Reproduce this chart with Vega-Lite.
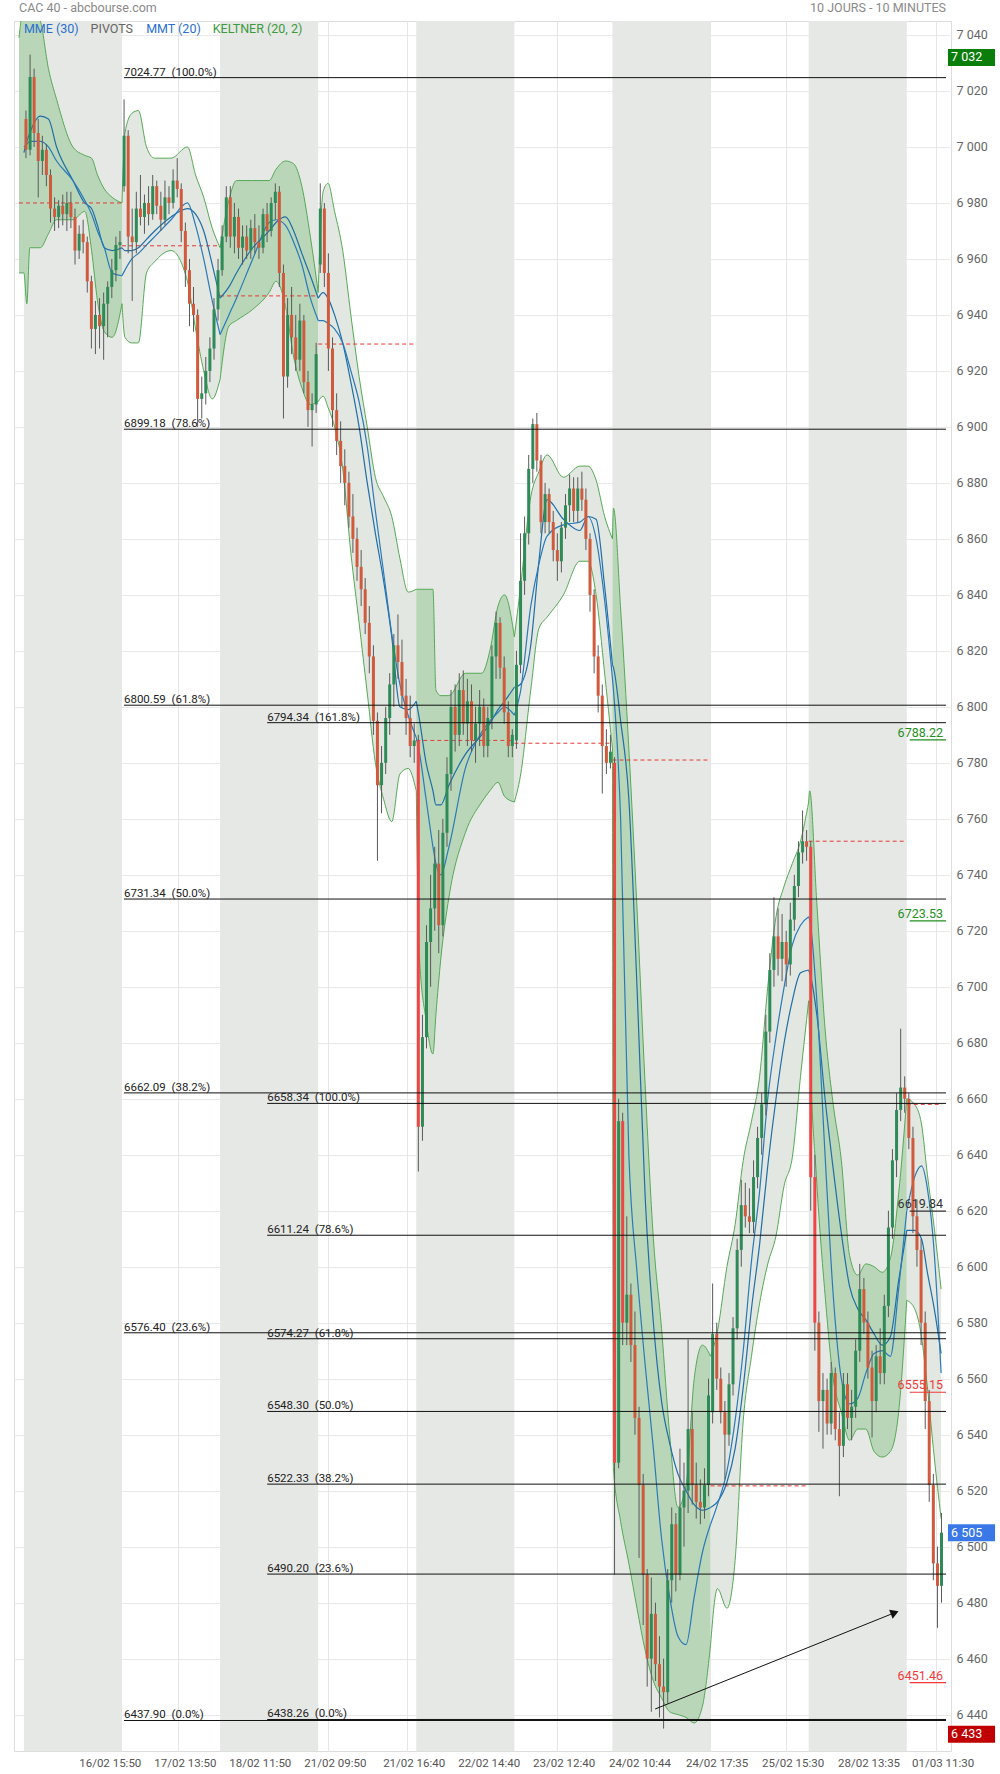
{
"$schema":"https://vega.github.io/schema/vega-lite/v6.json",
"width":937,"height":1730,
"autosize":{"type":"none"},
"padding":{"left":14,"top":21,"right":49,"bottom":23},
"background":"white",
"config":{"view":{"stroke":"#dddddd"},"font":"Roboto"},
"resolve":{"scale":{"color":"independent"}},
"datasets":{
"days":[{"s":0,"e":1},{"s":2,"e":3},{"s":4,"e":5},{"s":6,"e":7},{"s":8,"e":9}],
"band":[
{"x":-0.05,"u":7039,"l":6955,"a":null,"b":null,"d":0},
{"x":0,"u":7050,"l":6955,"a":6998,"b":7000,"d":0},
{"x":0.03,"u":7050,"l":6944,"a":7002,"b":7001,"d":0},
{"x":0.06,"u":7050,"l":6964,"a":7005,"b":7002,"d":0},
{"x":0.167,"u":7045,"l":6964,"a":7011,"b":7002,"d":0},
{"x":0.25,"u":7028,"l":6969,"a":7010,"b":7000,"d":0},
{"x":0.333,"u":7017,"l":6974,"a":7000,"b":6995,"d":0},
{"x":0.5,"u":7000,"l":6974,"a":6988,"b":6988,"d":0},
{"x":0.62,"u":6997,"l":6977,"a":6980,"b":6981,"d":0},
{"x":0.69,"u":6996,"l":6963,"a":6978,"b":6976,"d":0},
{"x":0.75,"u":6990,"l":6945,"a":6972,"b":6970,"d":0},
{"x":0.82,"u":6985,"l":6934,"a":6964,"b":6964,"d":0},
{"x":0.9,"u":6982,"l":6932,"a":6963,"b":6955,"d":0},
{"x":1,"u":6980,"l":6944,"a":6964,"b":6954,"d":0},
{"x":1,"u":6980,"l":6944,"a":6964,"b":6954,"d":1},
{"x":1.03,"u":7005,"l":6932,"a":6963,"b":6956,"d":1},
{"x":1.1,"u":7012,"l":6930,"a":6963,"b":6960,"d":1},
{"x":1.167,"u":7013,"l":6930,"a":6964,"b":6962,"d":1},
{"x":1.25,"u":7000,"l":6955,"a":6967,"b":6965,"d":1},
{"x":1.333,"u":6996,"l":6959,"a":6970,"b":6968,"d":1},
{"x":1.5,"u":6996,"l":6963,"a":6975,"b":6974,"d":1},
{"x":1.667,"u":7000,"l":6952,"a":6978,"b":6980,"d":1},
{"x":1.75,"u":6990,"l":6935,"a":6976,"b":6972,"d":1},
{"x":1.833,"u":6982,"l":6920,"a":6970,"b":6960,"d":1},
{"x":1.92,"u":6971,"l":6910,"a":6958,"b":6945,"d":1},
{"x":2,"u":6964,"l":6917,"a":6946,"b":6933,"d":1},
{"x":2,"u":6964,"l":6917,"a":6946,"b":6933,"d":2},
{"x":2.09,"u":6981,"l":6936,"a":6950,"b":6940,"d":2},
{"x":2.167,"u":6988,"l":6938,"a":6955,"b":6946,"d":2},
{"x":2.333,"u":6988,"l":6942,"a":6964,"b":6960,"d":2},
{"x":2.5,"u":6988,"l":6948,"a":6970,"b":6973,"d":2},
{"x":2.57,"u":6992,"l":6952,"a":6973,"b":6974,"d":2},
{"x":2.667,"u":6995,"l":6943,"a":6975,"b":6972,"d":2},
{"x":2.75,"u":6994,"l":6925,"a":6970,"b":6966,"d":2},
{"x":2.833,"u":6986,"l":6914,"a":6962,"b":6958,"d":2},
{"x":2.92,"u":6968,"l":6908,"a":6954,"b":6946,"d":2},
{"x":3,"u":6948,"l":6909,"a":6946,"b":6938,"d":2},
{"x":3,"u":6948,"l":6909,"a":6946,"b":6938,"d":3},
{"x":3.05,"u":6984,"l":6911,"a":6948,"b":6938,"d":3},
{"x":3.1,"u":6987,"l":6907,"a":6946,"b":6937,"d":3},
{"x":3.167,"u":6977,"l":6900,"a":6940,"b":6935,"d":3},
{"x":3.25,"u":6963,"l":6885,"a":6930,"b":6930,"d":3},
{"x":3.333,"u":6940,"l":6855,"a":6916,"b":6920,"d":3},
{"x":3.417,"u":6918,"l":6830,"a":6900,"b":6909,"d":3},
{"x":3.5,"u":6900,"l":6805,"a":6880,"b":6893,"d":3},
{"x":3.583,"u":6882,"l":6780,"a":6862,"b":6870,"d":3},
{"x":3.667,"u":6875,"l":6767,"a":6845,"b":6848,"d":3},
{"x":3.75,"u":6868,"l":6759,"a":6825,"b":6826,"d":3},
{"x":3.833,"u":6853,"l":6776,"a":6800,"b":6808,"d":3},
{"x":3.917,"u":6841,"l":6778,"a":6799,"b":6797,"d":3},
{"x":4,"u":6842,"l":6770,"a":6802,"b":6789,"d":3},
{"x":4,"u":6842,"l":6770,"a":6802,"b":6789,"d":4},
{"x":4.03,"u":6842,"l":6712,"a":6796,"b":6784,"d":4},
{"x":4.1,"u":6842,"l":6688,"a":6780,"b":6767,"d":4},
{"x":4.17,"u":6842,"l":6676,"a":6770,"b":6750,"d":4},
{"x":4.2,"u":6806,"l":6690,"a":6765,"b":6744,"d":4},
{"x":4.25,"u":6804,"l":6710,"a":6765,"b":6740,"d":4},
{"x":4.333,"u":6804,"l":6732,"a":6772,"b":6750,"d":4},
{"x":4.5,"u":6812,"l":6755,"a":6783,"b":6778,"d":4},
{"x":4.667,"u":6812,"l":6766,"a":6790,"b":6791,"d":4},
{"x":4.75,"u":6820,"l":6770,"a":6794,"b":6795,"d":4},
{"x":4.833,"u":6836,"l":6773,"a":6799,"b":6798,"d":4},
{"x":4.9,"u":6840,"l":6768,"a":6802,"b":6800,"d":4},
{"x":5,"u":6825,"l":6766,"a":6807,"b":6797,"d":4},
{"x":5,"u":6825,"l":6766,"a":6807,"b":6797,"d":5},
{"x":5.06,"u":6842,"l":6775,"a":6808,"b":6805,"d":5},
{"x":5.167,"u":6875,"l":6806,"a":6822,"b":6836,"d":5},
{"x":5.25,"u":6884,"l":6828,"a":6852,"b":6851,"d":5},
{"x":5.333,"u":6890,"l":6832,"a":6874,"b":6861,"d":5},
{"x":5.5,"u":6882,"l":6840,"a":6867,"b":6865,"d":5},
{"x":5.667,"u":6886,"l":6852,"a":6863,"b":6866,"d":5},
{"x":5.75,"u":6886,"l":6852,"a":6868,"b":6868,"d":5},
{"x":5.833,"u":6881,"l":6840,"a":6867,"b":6860,"d":5},
{"x":5.92,"u":6868,"l":6812,"a":6843,"b":6838,"d":5},
{"x":6,"u":6860,"l":6785,"a":6815,"b":6810,"d":5},
{"x":6,"u":6860,"l":6785,"a":6815,"b":6810,"d":6},
{"x":6.01,"u":6871,"l":6528,"a":6814,"b":6806,"d":6},
{"x":6.083,"u":6835,"l":6509,"a":6795,"b":6760,"d":6},
{"x":6.167,"u":6785,"l":6494,"a":6767,"b":6640,"d":6},
{"x":6.25,"u":6728,"l":6478,"a":6700,"b":6598,"d":6},
{"x":6.333,"u":6665,"l":6463,"a":6625,"b":6565,"d":6},
{"x":6.417,"u":6610,"l":6452,"a":6580,"b":6535,"d":6},
{"x":6.5,"u":6578,"l":6446,"a":6552,"b":6503,"d":6},
{"x":6.583,"u":6540,"l":6441,"a":6537,"b":6482,"d":6},
{"x":6.667,"u":6514,"l":6440,"a":6526,"b":6468,"d":6},
{"x":6.75,"u":6522,"l":6439,"a":6520,"b":6465,"d":6},
{"x":6.833,"u":6560,"l":6437,"a":6515,"b":6482,"d":6},
{"x":6.917,"u":6572,"l":6443,"a":6513,"b":6498,"d":6},
{"x":7,"u":6568,"l":6465,"a":6514,"b":6508,"d":6},
{"x":7,"u":6568,"l":6465,"a":6514,"b":6508,"d":7},
{"x":7.07,"u":6577,"l":6485,"a":6516,"b":6515,"d":7},
{"x":7.167,"u":6600,"l":6478,"a":6523,"b":6527,"d":7},
{"x":7.25,"u":6615,"l":6495,"a":6535,"b":6545,"d":7},
{"x":7.333,"u":6638,"l":6545,"a":6557,"b":6570,"d":7},
{"x":7.417,"u":6652,"l":6568,"a":6585,"b":6602,"d":7},
{"x":7.5,"u":6668,"l":6587,"a":6608,"b":6627,"d":7},
{"x":7.583,"u":6700,"l":6601,"a":6636,"b":6660,"d":7},
{"x":7.667,"u":6725,"l":6611,"a":6660,"b":6682,"d":7},
{"x":7.75,"u":6736,"l":6629,"a":6680,"b":6700,"d":7},
{"x":7.833,"u":6744,"l":6639,"a":6695,"b":6715,"d":7},
{"x":7.917,"u":6752,"l":6668,"a":6705,"b":6722,"d":7},
{"x":8,"u":6766,"l":6695,"a":6706,"b":6725,"d":7},
{"x":8,"u":6766,"l":6695,"a":6706,"b":6725,"d":8},
{"x":8.01,"u":6770,"l":6681,"a":6705,"b":6724,"d":8},
{"x":8.083,"u":6730,"l":6630,"a":6690,"b":6695,"d":8},
{"x":8.167,"u":6685,"l":6590,"a":6660,"b":6640,"d":8},
{"x":8.25,"u":6658,"l":6560,"a":6635,"b":6590,"d":8},
{"x":8.333,"u":6638,"l":6548,"a":6612,"b":6560,"d":8},
{"x":8.417,"u":6604,"l":6538,"a":6593,"b":6551,"d":8},
{"x":8.5,"u":6597,"l":6542,"a":6585,"b":6553,"d":8},
{"x":8.583,"u":6601,"l":6542,"a":6581,"b":6562,"d":8},
{"x":8.667,"u":6600,"l":6534,"a":6576,"b":6569,"d":8},
{"x":8.75,"u":6598,"l":6532,"a":6572,"b":6570,"d":8},
{"x":8.833,"u":6603,"l":6534,"a":6575,"b":6568,"d":8},
{"x":8.917,"u":6626,"l":6548,"a":6595,"b":6592,"d":8},
{"x":9,"u":6660,"l":6588,"a":6613,"b":6620,"d":8},
{"x":9,"u":6660,"l":6588,"a":6613,"b":6620,"d":9},
{"x":9.08,"u":6658,"l":6585,"a":6613,"b":6632,"d":9},
{"x":9.15,"u":6651,"l":6575,"a":6610,"b":6636,"d":9},
{"x":9.21,"u":6633,"l":6557,"a":6598,"b":6628,"d":9},
{"x":9.28,"u":6614,"l":6532,"a":6585,"b":6605,"d":9},
{"x":9.35,"u":6592,"l":6510,"a":6569,"b":6562,"d":9}
],
"candles":[
{"x":0.021,"o":7010,"h":7013,"l":6996,"c":6999},{"x":0.063,"o":6999,"h":7033,"l":6997,"c":7025},{"x":0.104,"o":7025,"h":7028,"l":7000,"c":7005},{"x":0.146,"o":7005,"h":7010,"l":6982,"c":6995},{"x":0.188,"o":6995,"h":7004,"l":6990,"c":6999},{"x":0.229,"o":6999,"h":7001,"l":6986,"c":6990},{"x":0.271,"o":6990,"h":6992,"l":6973,"c":6978},{"x":0.313,"o":6978,"h":6982,"l":6970,"c":6975},{"x":0.354,"o":6975,"h":6981,"l":6971,"c":6979},{"x":0.396,"o":6979,"h":6983,"l":6972,"c":6976},{"x":0.438,"o":6976,"h":6984,"l":6970,"c":6980},{"x":0.479,"o":6980,"h":6984,"l":6971,"c":6975},{"x":0.521,"o":6975,"h":6978,"l":6958,"c":6963},{"x":0.563,"o":6963,"h":6972,"l":6960,"c":6969},{"x":0.604,"o":6969,"h":6974,"l":6962,"c":6966},{"x":0.646,"o":6966,"h":6968,"l":6948,"c":6952},{"x":0.688,"o":6952,"h":6954,"l":6928,"c":6935},{"x":0.729,"o":6935,"h":6945,"l":6926,"c":6940},{"x":0.771,"o":6940,"h":6946,"l":6928,"c":6936},{"x":0.813,"o":6936,"h":6948,"l":6924,"c":6944},{"x":0.854,"o":6944,"h":6952,"l":6932,"c":6950},{"x":0.896,"o":6950,"h":6960,"l":6946,"c":6956},{"x":0.938,"o":6956,"h":6968,"l":6952,"c":6965},{"x":0.979,"o":6965,"h":6970,"l":6960,"c":6966},
{"x":1.021,"o":6986,"h":7017,"l":6984,"c":7004},{"x":1.063,"o":7004,"h":7006,"l":6962,"c":6968},{"x":1.104,"o":6968,"h":6978,"l":6945,"c":6966},{"x":1.146,"o":6966,"h":6984,"l":6962,"c":6978},{"x":1.188,"o":6978,"h":6990,"l":6972,"c":6975},{"x":1.229,"o":6975,"h":6983,"l":6969,"c":6980},{"x":1.271,"o":6980,"h":6986,"l":6972,"c":6976},{"x":1.313,"o":6976,"h":6990,"l":6974,"c":6986},{"x":1.354,"o":6986,"h":6988,"l":6976,"c":6979},{"x":1.396,"o":6979,"h":6984,"l":6970,"c":6974},{"x":1.438,"o":6974,"h":6988,"l":6972,"c":6982},{"x":1.479,"o":6982,"h":6986,"l":6976,"c":6980},{"x":1.521,"o":6980,"h":6992,"l":6978,"c":6988},{"x":1.563,"o":6988,"h":6996,"l":6982,"c":6985},{"x":1.604,"o":6985,"h":6987,"l":6966,"c":6970},{"x":1.646,"o":6970,"h":6973,"l":6950,"c":6956},{"x":1.688,"o":6956,"h":6960,"l":6936,"c":6944},{"x":1.729,"o":6944,"h":6950,"l":6934,"c":6940},{"x":1.771,"o":6940,"h":6942,"l":6900,"c":6910},{"x":1.813,"o":6910,"h":6918,"l":6903,"c":6912},{"x":1.854,"o":6912,"h":6925,"l":6908,"c":6920},{"x":1.896,"o":6920,"h":6932,"l":6916,"c":6928},{"x":1.938,"o":6928,"h":6946,"l":6924,"c":6942},{"x":1.979,"o":6942,"h":6960,"l":6938,"c":6956},
{"x":2.021,"o":6956,"h":6972,"l":6954,"c":6968},{"x":2.063,"o":6968,"h":6986,"l":6966,"c":6982},{"x":2.104,"o":6982,"h":6986,"l":6964,"c":6968},{"x":2.146,"o":6968,"h":6980,"l":6962,"c":6975},{"x":2.188,"o":6975,"h":6978,"l":6960,"c":6964},{"x":2.229,"o":6964,"h":6972,"l":6958,"c":6968},{"x":2.271,"o":6968,"h":6972,"l":6960,"c":6963},{"x":2.313,"o":6963,"h":6974,"l":6960,"c":6971},{"x":2.354,"o":6971,"h":6976,"l":6962,"c":6966},{"x":2.396,"o":6966,"h":6972,"l":6960,"c":6964},{"x":2.438,"o":6964,"h":6978,"l":6962,"c":6976},{"x":2.479,"o":6976,"h":6980,"l":6966,"c":6970},{"x":2.521,"o":6970,"h":6982,"l":6968,"c":6980},{"x":2.563,"o":6980,"h":6987,"l":6974,"c":6984},{"x":2.604,"o":6984,"h":6986,"l":6950,"c":6955},{"x":2.646,"o":6955,"h":6958,"l":6903,"c":6918},{"x":2.688,"o":6918,"h":6946,"l":6914,"c":6940},{"x":2.729,"o":6940,"h":6950,"l":6926,"c":6932},{"x":2.771,"o":6932,"h":6940,"l":6920,"c":6924},{"x":2.813,"o":6924,"h":6944,"l":6920,"c":6938},{"x":2.854,"o":6938,"h":6940,"l":6912,"c":6916},{"x":2.896,"o":6916,"h":6920,"l":6900,"c":6906},{"x":2.938,"o":6906,"h":6912,"l":6893,"c":6908},{"x":2.979,"o":6908,"h":6930,"l":6905,"c":6926},
{"x":3.021,"o":6958,"h":6987,"l":6955,"c":6978},{"x":3.063,"o":6978,"h":6980,"l":6950,"c":6955},{"x":3.104,"o":6955,"h":6962,"l":6920,"c":6928},{"x":3.146,"o":6928,"h":6932,"l":6900,"c":6906},{"x":3.188,"o":6906,"h":6912,"l":6890,"c":6895},{"x":3.229,"o":6895,"h":6902,"l":6880,"c":6886},{"x":3.271,"o":6886,"h":6892,"l":6872,"c":6880},{"x":3.313,"o":6880,"h":6884,"l":6864,"c":6868},{"x":3.354,"o":6868,"h":6876,"l":6855,"c":6860},{"x":3.396,"o":6860,"h":6864,"l":6845,"c":6850},{"x":3.438,"o":6850,"h":6856,"l":6836,"c":6842},{"x":3.479,"o":6842,"h":6846,"l":6826,"c":6830},{"x":3.521,"o":6830,"h":6836,"l":6812,"c":6818},{"x":3.563,"o":6818,"h":6822,"l":6790,"c":6795},{"x":3.604,"o":6795,"h":6798,"l":6745,"c":6772},{"x":3.646,"o":6772,"h":6786,"l":6762,"c":6780},{"x":3.688,"o":6780,"h":6800,"l":6776,"c":6796},{"x":3.729,"o":6796,"h":6812,"l":6790,"c":6808},{"x":3.771,"o":6808,"h":6826,"l":6800,"c":6822},{"x":3.813,"o":6822,"h":6833,"l":6810,"c":6816},{"x":3.854,"o":6816,"h":6824,"l":6800,"c":6804},{"x":3.896,"o":6804,"h":6810,"l":6790,"c":6796},{"x":3.938,"o":6796,"h":6804,"l":6782,"c":6786},{"x":3.979,"o":6786,"h":6794,"l":6780,"c":6788},
{"x":4.021,"o":6788,"h":6790,"l":6634,"c":6650},{"x":4.063,"o":6650,"h":6690,"l":6645,"c":6682},{"x":4.104,"o":6682,"h":6722,"l":6678,"c":6716},{"x":4.146,"o":6716,"h":6740,"l":6700,"c":6728},{"x":4.188,"o":6728,"h":6750,"l":6720,"c":6744},{"x":4.229,"o":6744,"h":6756,"l":6712,"c":6722},{"x":4.271,"o":6722,"h":6760,"l":6718,"c":6755},{"x":4.313,"o":6755,"h":6782,"l":6750,"c":6776},{"x":4.354,"o":6776,"h":6806,"l":6770,"c":6800},{"x":4.396,"o":6800,"h":6808,"l":6784,"c":6790},{"x":4.438,"o":6790,"h":6812,"l":6786,"c":6806},{"x":4.479,"o":6806,"h":6813,"l":6790,"c":6794},{"x":4.521,"o":6794,"h":6810,"l":6786,"c":6802},{"x":4.563,"o":6802,"h":6808,"l":6784,"c":6788},{"x":4.604,"o":6788,"h":6800,"l":6780,"c":6794},{"x":4.646,"o":6794,"h":6806,"l":6786,"c":6800},{"x":4.688,"o":6800,"h":6803,"l":6782,"c":6786},{"x":4.729,"o":6786,"h":6800,"l":6782,"c":6796},{"x":4.771,"o":6796,"h":6822,"l":6792,"c":6818},{"x":4.813,"o":6818,"h":6834,"l":6810,"c":6830},{"x":4.854,"o":6830,"h":6832,"l":6810,"c":6814},{"x":4.896,"o":6814,"h":6818,"l":6794,"c":6798},{"x":4.938,"o":6798,"h":6802,"l":6782,"c":6786},{"x":4.979,"o":6786,"h":6792,"l":6782,"c":6790},
{"x":5.021,"o":6788,"h":6820,"l":6785,"c":6815},{"x":5.063,"o":6815,"h":6862,"l":6812,"c":6845},{"x":5.104,"o":6845,"h":6868,"l":6840,"c":6862},{"x":5.146,"o":6862,"h":6890,"l":6858,"c":6885},{"x":5.188,"o":6885,"h":6903,"l":6880,"c":6901},{"x":5.229,"o":6901,"h":6905,"l":6884,"c":6888},{"x":5.271,"o":6888,"h":6890,"l":6862,"c":6866},{"x":5.313,"o":6866,"h":6880,"l":6862,"c":6876},{"x":5.354,"o":6876,"h":6878,"l":6862,"c":6866},{"x":5.396,"o":6866,"h":6870,"l":6852,"c":6856},{"x":5.438,"o":6856,"h":6862,"l":6845,"c":6852},{"x":5.479,"o":6852,"h":6866,"l":6848,"c":6864},{"x":5.521,"o":6864,"h":6876,"l":6860,"c":6872},{"x":5.563,"o":6872,"h":6883,"l":6866,"c":6878},{"x":5.604,"o":6878,"h":6882,"l":6866,"c":6870},{"x":5.646,"o":6870,"h":6882,"l":6866,"c":6878},{"x":5.688,"o":6878,"h":6884,"l":6870,"c":6874},{"x":5.729,"o":6874,"h":6878,"l":6856,"c":6860},{"x":5.771,"o":6860,"h":6862,"l":6834,"c":6840},{"x":5.813,"o":6840,"h":6842,"l":6812,"c":6818},{"x":5.854,"o":6818,"h":6822,"l":6798,"c":6804},{"x":5.896,"o":6804,"h":6808,"l":6769,"c":6786},{"x":5.938,"o":6786,"h":6792,"l":6776,"c":6780},{"x":5.979,"o":6780,"h":6790,"l":6778,"c":6784},
{"x":6.021,"o":6780,"h":6782,"l":6490,"c":6530},{"x":6.063,"o":6530,"h":6660,"l":6528,"c":6652},{"x":6.104,"o":6652,"h":6655,"l":6572,"c":6580},{"x":6.146,"o":6580,"h":6618,"l":6572,"c":6590},{"x":6.188,"o":6590,"h":6594,"l":6566,"c":6572},{"x":6.229,"o":6572,"h":6584,"l":6540,"c":6546},{"x":6.271,"o":6546,"h":6550,"l":6496,"c":6522},{"x":6.313,"o":6522,"h":6526,"l":6472,"c":6490},{"x":6.354,"o":6490,"h":6492,"l":6450,"c":6460},{"x":6.396,"o":6460,"h":6489,"l":6441,"c":6476},{"x":6.438,"o":6476,"h":6480,"l":6452,"c":6458},{"x":6.479,"o":6458,"h":6468,"l":6439,"c":6450},{"x":6.521,"o":6450,"h":6460,"l":6435,"c":6448},{"x":6.563,"o":6448,"h":6492,"l":6444,"c":6488},{"x":6.604,"o":6488,"h":6514,"l":6480,"c":6508},{"x":6.646,"o":6508,"h":6512,"l":6484,"c":6490},{"x":6.688,"o":6490,"h":6535,"l":6488,"c":6514},{"x":6.729,"o":6514,"h":6530,"l":6500,"c":6520},{"x":6.771,"o":6520,"h":6574,"l":6512,"c":6542},{"x":6.813,"o":6542,"h":6548,"l":6515,"c":6522},{"x":6.854,"o":6522,"h":6530,"l":6510,"c":6516},{"x":6.896,"o":6516,"h":6524,"l":6508,"c":6514},{"x":6.938,"o":6514,"h":6528,"l":6510,"c":6522},{"x":6.979,"o":6522,"h":6560,"l":6518,"c":6554},
{"x":7.021,"o":6548,"h":6594,"l":6544,"c":6576},{"x":7.063,"o":6576,"h":6580,"l":6556,"c":6560},{"x":7.104,"o":6560,"h":6564,"l":6544,"c":6548},{"x":7.146,"o":6548,"h":6552,"l":6524,"c":6540},{"x":7.188,"o":6540,"h":6562,"l":6536,"c":6558},{"x":7.229,"o":6558,"h":6582,"l":6554,"c":6578},{"x":7.271,"o":6578,"h":6610,"l":6574,"c":6606},{"x":7.313,"o":6606,"h":6631,"l":6600,"c":6622},{"x":7.354,"o":6622,"h":6630,"l":6614,"c":6618},{"x":7.396,"o":6618,"h":6628,"l":6612,"c":6616},{"x":7.438,"o":6616,"h":6638,"l":6612,"c":6632},{"x":7.479,"o":6632,"h":6650,"l":6628,"c":6646},{"x":7.521,"o":6646,"h":6662,"l":6640,"c":6658},{"x":7.563,"o":6658,"h":6690,"l":6654,"c":6684},{"x":7.604,"o":6684,"h":6712,"l":6680,"c":6706},{"x":7.646,"o":6706,"h":6732,"l":6700,"c":6718},{"x":7.688,"o":6718,"h":6728,"l":6704,"c":6710},{"x":7.729,"o":6710,"h":6726,"l":6702,"c":6716},{"x":7.771,"o":6716,"h":6720,"l":6700,"c":6708},{"x":7.813,"o":6708,"h":6730,"l":6704,"c":6724},{"x":7.854,"o":6724,"h":6740,"l":6720,"c":6736},{"x":7.896,"o":6736,"h":6752,"l":6732,"c":6748},{"x":7.938,"o":6748,"h":6763,"l":6744,"c":6752},{"x":7.979,"o":6752,"h":6756,"l":6745,"c":6750},
{"x":8.021,"o":6750,"h":6752,"l":6620,"c":6632},{"x":8.063,"o":6632,"h":6640,"l":6570,"c":6580},{"x":8.104,"o":6580,"h":6584,"l":6541,"c":6552},{"x":8.146,"o":6552,"h":6562,"l":6535,"c":6556},{"x":8.188,"o":6556,"h":6560,"l":6540,"c":6544},{"x":8.229,"o":6544,"h":6566,"l":6540,"c":6562},{"x":8.271,"o":6562,"h":6564,"l":6538,"c":6542},{"x":8.313,"o":6542,"h":6548,"l":6518,"c":6536},{"x":8.354,"o":6536,"h":6562,"l":6532,"c":6558},{"x":8.396,"o":6558,"h":6562,"l":6542,"c":6546},{"x":8.438,"o":6546,"h":6556,"l":6538,"c":6550},{"x":8.479,"o":6550,"h":6574,"l":6546,"c":6570},{"x":8.521,"o":6570,"h":6601,"l":6566,"c":6592},{"x":8.563,"o":6592,"h":6596,"l":6576,"c":6580},{"x":8.604,"o":6580,"h":6584,"l":6560,"c":6564},{"x":8.646,"o":6564,"h":6570,"l":6539,"c":6552},{"x":8.688,"o":6552,"h":6572,"l":6548,"c":6568},{"x":8.729,"o":6568,"h":6578,"l":6558,"c":6562},{"x":8.771,"o":6562,"h":6590,"l":6558,"c":6586},{"x":8.813,"o":6586,"h":6620,"l":6582,"c":6614},{"x":8.854,"o":6614,"h":6642,"l":6610,"c":6638},{"x":8.896,"o":6638,"h":6662,"l":6632,"c":6656},{"x":8.938,"o":6656,"h":6685,"l":6652,"c":6664},{"x":8.979,"o":6664,"h":6668,"l":6655,"c":6660},
{"x":9.021,"o":6660,"h":6662,"l":6642,"c":6646},{"x":9.063,"o":6646,"h":6650,"l":6612,"c":6618},{"x":9.104,"o":6618,"h":6624,"l":6600,"c":6606},{"x":9.146,"o":6606,"h":6610,"l":6572,"c":6580},{"x":9.188,"o":6580,"h":6584,"l":6542,"c":6552},{"x":9.229,"o":6552,"h":6556,"l":6516,"c":6522},{"x":9.271,"o":6522,"h":6526,"l":6488,"c":6494},{"x":9.313,"o":6494,"h":6500,"l":6471,"c":6486},{"x":9.354,"o":6486,"h":6512,"l":6480,"c":6505}
],
"piv":[{"a":-0.05,"b":1,"v":6980},{"a":1,"b":2,"v":6964.7},{"a":2,"b":3,"v":6946.8},{"a":3,"b":4,"v":6929.6},{"a":4,"b":5,"v":6788},{"a":5,"b":6,"v":6787},{"a":6,"b":7,"v":6781},{"a":7,"b":8,"v":6521.7},{"a":8,"b":9,"v":6752},{"a":9,"b":9.36,"v":6658}],
"fib1":[{"v":7024.77,"t":"7024.77\u00a0 (100.0%)"},{"v":6899.18,"t":"6899.18\u00a0 (78.6%)"},{"v":6800.59,"t":"6800.59\u00a0 (61.8%)"},{"v":6731.34,"t":"6731.34\u00a0 (50.0%)"},{"v":6662.09,"t":"6662.09\u00a0 (38.2%)"},{"v":6576.40,"t":"6576.40\u00a0 (23.6%)"},{"v":6437.90,"t":"6437.90\u00a0 (0.0%)"}],
"fib2":[{"v":6794.34,"t":"6794.34\u00a0 (161.8%)"},{"v":6658.34,"t":"6658.34\u00a0 (100.0%)"},{"v":6611.24,"t":"6611.24\u00a0 (78.6%)"},{"v":6574.27,"t":"6574.27\u00a0 (61.8%)"},{"v":6548.30,"t":"6548.30\u00a0 (50.0%)"},{"v":6522.33,"t":"6522.33\u00a0 (38.2%)"},{"v":6490.20,"t":"6490.20\u00a0 (23.6%)"},{"v":6438.26,"t":"6438.26\u00a0 (0.0%)"}],
"levels":[{"v":6788.22,"t":"6788.22","k":"g"},{"v":6723.53,"t":"6723.53","k":"g"},{"v":6619.84,"t":"6619.84","k":"n"},{"v":6555.15,"t":"6555.15","k":"r"},{"v":6451.46,"t":"6451.46","k":"r"}],
"tags":[{"v":7032,"t":"7 032","k":"hi"},{"v":6505,"t":"6 505","k":"last"},{"v":6433,"t":"6 433","k":"lo"}],
"arrow":[{"x":6.435,"v":6442},{"x":8.877,"v":6476.4}]
},
"layer":[
{"data":{"name":"days"},"mark":{"type":"rect","color":"#e6e8e5"},
 "encoding":{"x":{"field":"s","type":"quantitative","title":null,"scale":{"domain":[-0.05,9.4],"nice":false,"zero":false}},"x2":{"field":"e"}}},
{"data":{"name":"band"},"mark":{"type":"area","interpolate":"monotone","clip":true},
 "encoding":{"x":{"field":"x","type":"quantitative","title":null,"scale":{"domain":[-0.05,9.4],"nice":false,"zero":false}},
 "y":{"field":"u","type":"quantitative","title":null,"scale":{"domain":[6427,7045],"nice":false,"zero":false}},"y2":{"field":"l"},
 "detail":{"field":"d","type":"nominal"},
 "color":{"condition":{"test":"datum.d % 2 === 0","value":"#b9d6b9"},"value":"#e2e7e1"}}},
{"data":{"name":"band"},"mark":{"type":"line","interpolate":"monotone","clip":true,"color":"#55a955","strokeWidth":1},
 "encoding":{"x":{"field":"x","type":"quantitative","title":null,"scale":{"domain":[-0.05,9.4],"nice":false,"zero":false}},
 "y":{"field":"u","type":"quantitative","title":null,"scale":{"domain":[6427,7045],"nice":false,"zero":false}},"detail":{"field":"d","type":"nominal"}}},
{"data":{"name":"band"},"mark":{"type":"line","interpolate":"monotone","clip":true,"color":"#55a955","strokeWidth":1},
 "encoding":{"x":{"field":"x","type":"quantitative","title":null,"scale":{"domain":[-0.05,9.4],"nice":false,"zero":false}},
 "y":{"field":"l","type":"quantitative","title":null,"scale":{"domain":[6427,7045],"nice":false,"zero":false}},"detail":{"field":"d","type":"nominal"}}},
{"data":{"name":"piv"},"mark":{"type":"rule","color":"#e53935","strokeDash":[4,3],"strokeWidth":1},
 "encoding":{"x":{"field":"a","type":"quantitative","title":null,"scale":{"domain":[-0.05,9.4],"nice":false,"zero":false}},"x2":{"field":"b"},
 "y":{"field":"v","type":"quantitative","title":null,"scale":{"domain":[6427,7045],"nice":false,"zero":false}}}},
{"data":{"name":"band"},"mark":{"type":"line","interpolate":"monotone","clip":true,"color":"#1f6ea8","strokeWidth":1.2},
 "encoding":{"x":{"field":"x","type":"quantitative","title":null,"scale":{"domain":[-0.05,9.4],"nice":false,"zero":false}},
 "y":{"field":"a","type":"quantitative","title":null,"scale":{"domain":[6427,7045],"nice":false,"zero":false}},"detail":{"field":"d","type":"nominal"}}},
{"data":{"name":"band"},"mark":{"type":"line","interpolate":"monotone","clip":true,"color":"#2a7ab8","strokeWidth":1.2},
 "encoding":{"x":{"field":"x","type":"quantitative","title":null,"scale":{"domain":[-0.05,9.4],"nice":false,"zero":false}},
 "y":{"field":"b","type":"quantitative","title":null,"scale":{"domain":[6427,7045],"nice":false,"zero":false}},"detail":{"field":"d","type":"nominal"}}},
{"data":{"name":"candles"},"mark":{"type":"rule","color":"#5a5a5a","strokeWidth":1},
 "encoding":{"x":{"field":"x","type":"quantitative","title":null,"scale":{"domain":[-0.05,9.4],"nice":false,"zero":false}},
 "y":{"field":"l","type":"quantitative","title":null,"scale":{"domain":[6427,7045],"nice":false,"zero":false}},"y2":{"field":"h"}}},
{"data":{"name":"candles"},"mark":{"type":"bar","size":3},
 "encoding":{"x":{"field":"x","type":"quantitative","title":null,"scale":{"domain":[-0.05,9.4],"nice":false,"zero":false},
   "axis":{"orient":"bottom","title":null,"values":[0.804,1.569,2.333,3.098,3.902,4.667,5.431,6.204,6.99,7.765,8.539,9.294],
   "labelExpr":"datum.value < 1 ? '16/02 15:50' : datum.value < 2 ? '17/02 13:50' : datum.value < 3 ? '18/02 11:50' : datum.value < 3.5 ? '21/02 09:50' : datum.value < 4 ? '21/02 16:40' : datum.value < 5 ? '22/02 14:40' : datum.value < 6 ? '23/02 12:40' : datum.value < 6.5 ? '24/02 10:44' : datum.value < 7 ? '24/02 17:35' : datum.value < 8 ? '25/02 15:30' : datum.value < 9 ? '28/02 13:35' : '01/03 11:30'",
   "grid":true,"gridColor":"#e6e6e6","domain":false,"ticks":false,"labelPadding":6,"labelOffset":7,"labelFontSize":11.5,"labelColor":"#555555","labelFont":"Roboto","labelOverlap":false,"labelFlush":false,"labelBound":false}},
 "y":{"field":"o","type":"quantitative","title":null,"scale":{"domain":[6427,7045],"nice":false,"zero":false},
   "axis":{"orient":"right","title":null,"values":[6440,6460,6480,6500,6520,6540,6560,6580,6600,6620,6640,6660,6680,6700,6720,6740,6760,6780,6800,6820,6840,6860,6880,6900,6920,6940,6960,6980,7000,7020,7040],
   "labelExpr":"replace(format(datum.value, ','), ',', ' ')","grid":true,"gridColor":"#e8e8e8","domain":false,"ticks":false,"labelPadding":5,"labelFontSize":12.5,"labelColor":"#666666","labelFont":"Roboto","labelAlign":"left","labelBaseline":"middle","labelOverlap":false,"labelFlush":false}},
 "y2":{"field":"c"},
 "color":{"condition":[{"test":"datum.c >= datum.o","value":"#2e8b57"},{"test":"datum.o - datum.c > 40","value":"#ee4646"}],"value":"#cf5a3c"}}},
{"data":{"name":"fib1"},"mark":{"type":"rule","color":"#111111","strokeWidth":1},
 "encoding":{"x":{"datum":1.02,"type":"quantitative","title":null,"scale":{"domain":[-0.05,9.4],"nice":false,"zero":false}},"x2":{"datum":9.4},
 "y":{"field":"v","type":"quantitative","title":null,"scale":{"domain":[6427,7045],"nice":false,"zero":false}}}},
{"data":{"name":"fib1"},"mark":{"type":"text","align":"left","baseline":"alphabetic","dy":-2,"fontSize":11.5,"color":"#222222","font":"Roboto"},
 "encoding":{"x":{"datum":1.02,"type":"quantitative","title":null,"scale":{"domain":[-0.05,9.4],"nice":false,"zero":false}},
 "y":{"field":"v","type":"quantitative","title":null,"scale":{"domain":[6427,7045],"nice":false,"zero":false}},"text":{"field":"t"}}},
{"data":{"name":"fib2"},"mark":{"type":"rule","color":"#111111","strokeWidth":1},
 "encoding":{"x":{"datum":2.48,"type":"quantitative","title":null,"scale":{"domain":[-0.05,9.4],"nice":false,"zero":false}},"x2":{"datum":9.4},
 "y":{"field":"v","type":"quantitative","title":null,"scale":{"domain":[6427,7045],"nice":false,"zero":false}}}},
{"data":{"name":"fib2"},"mark":{"type":"text","align":"left","baseline":"alphabetic","dy":-2,"fontSize":11.5,"color":"#222222","font":"Roboto"},
 "encoding":{"x":{"datum":2.48,"type":"quantitative","title":null,"scale":{"domain":[-0.05,9.4],"nice":false,"zero":false}},
 "y":{"field":"v","type":"quantitative","title":null,"scale":{"domain":[6427,7045],"nice":false,"zero":false}},"text":{"field":"t"}}},
{"data":{"name":"levels"},"mark":{"type":"rule","strokeWidth":1.2},
 "encoding":{"x":{"datum":9.03,"type":"quantitative","title":null,"scale":{"domain":[-0.05,9.4],"nice":false,"zero":false}},"x2":{"datum":9.4},
 "y":{"field":"v","type":"quantitative","title":null,"scale":{"domain":[6427,7045],"nice":false,"zero":false}},
 "color":{"field":"k","type":"nominal","scale":{"domain":["g","n","r"],"range":["#1f8f1f","#333333","#f03a3a"]},"legend":null}}},
{"data":{"name":"levels"},"mark":{"type":"text","align":"right","baseline":"alphabetic","dy":-3,"fontSize":12.5,"font":"Roboto"},
 "encoding":{"x":{"datum":9.37,"type":"quantitative","title":null,"scale":{"domain":[-0.05,9.4],"nice":false,"zero":false}},
 "y":{"field":"v","type":"quantitative","title":null,"scale":{"domain":[6427,7045],"nice":false,"zero":false}},"text":{"field":"t"},
 "color":{"field":"k","type":"nominal","scale":{"domain":["g","n","r"],"range":["#1f8f1f","#333333","#f03a3a"]},"legend":null}}},
{"data":{"name":"arrow"},"mark":{"type":"line","color":"#111111","strokeWidth":1},
 "encoding":{"x":{"field":"x","type":"quantitative","title":null,"scale":{"domain":[-0.05,9.4],"nice":false,"zero":false}},
 "y":{"field":"v","type":"quantitative","title":null,"scale":{"domain":[6427,7045],"nice":false,"zero":false}}}},
{"data":{"name":"arrow"},"transform":[{"filter":"datum.x > 8"}],"mark":{"type":"point","shape":"triangle-right","filled":true,"color":"#111111","size":90,"angle":-21.7,"opacity":1},
 "encoding":{"x":{"field":"x","type":"quantitative","title":null,"scale":{"domain":[-0.05,9.4],"nice":false,"zero":false}},
 "y":{"field":"v","type":"quantitative","title":null,"scale":{"domain":[6427,7045],"nice":false,"zero":false}}}},
{"data":{"name":"tags"},"mark":{"type":"rule","strokeWidth":17,"strokeCap":"butt"},
 "encoding":{"x":{"datum":9.42,"type":"quantitative","title":null,"scale":{"domain":[-0.05,9.4],"nice":false,"zero":false}},"x2":{"datum":9.9},
 "y":{"field":"v","type":"quantitative","title":null,"scale":{"domain":[6427,7045],"nice":false,"zero":false}},
 "color":{"field":"k","type":"nominal","scale":{"domain":["hi","last","lo"],"range":["#0a7d0a","#3b78e7","#c00000"]},"legend":null}}},
{"data":{"name":"tags"},"mark":{"type":"text","align":"left","baseline":"middle","fontSize":12.5,"color":"#ffffff","font":"Roboto"},
 "encoding":{"x":{"datum":9.452,"type":"quantitative","title":null,"scale":{"domain":[-0.05,9.4],"nice":false,"zero":false}},
 "y":{"field":"v","type":"quantitative","title":null,"scale":{"domain":[6427,7045],"nice":false,"zero":false}},"text":{"field":"t"}}},
{"data":{"values":[{}]},"mark":{"type":"text","align":"left","baseline":"middle","fontSize":12.5,"color":"#8a8a8a","font":"Roboto"},
 "encoding":{"x":{"datum":-0.05,"type":"quantitative","title":null,"scale":{"domain":[-0.05,9.4],"nice":false,"zero":false}},
 "y":{"datum":7049.5,"type":"quantitative","title":null,"scale":{"domain":[6427,7045],"nice":false,"zero":false}},"text":{"value":"CAC 40 - abcbourse.com"}}},
{"data":{"values":[{}]},"mark":{"type":"text","align":"right","baseline":"middle","fontSize":12.5,"color":"#8a8a8a","font":"Roboto"},
 "encoding":{"x":{"datum":9.4,"type":"quantitative","title":null,"scale":{"domain":[-0.05,9.4],"nice":false,"zero":false}},
 "y":{"datum":7049.5,"type":"quantitative","title":null,"scale":{"domain":[6427,7045],"nice":false,"zero":false}},"text":{"value":"10 JOURS - 10 MINUTES"}}},
{"data":{"values":[{}]},"mark":{"type":"text","align":"left","baseline":"middle","fontSize":12.5,"color":"#2a6fd0","font":"Roboto"},
 "encoding":{"x":{"datum":0,"type":"quantitative","title":null,"scale":{"domain":[-0.05,9.4],"nice":false,"zero":false}},
 "y":{"datum":7042.1,"type":"quantitative","title":null,"scale":{"domain":[6427,7045],"nice":false,"zero":false}},"text":{"value":"MME (30)"}}},
{"data":{"values":[{}]},"mark":{"type":"text","align":"left","baseline":"middle","fontSize":12.5,"color":"#666666","font":"Roboto"},
 "encoding":{"x":{"datum":0.68,"type":"quantitative","title":null,"scale":{"domain":[-0.05,9.4],"nice":false,"zero":false}},
 "y":{"datum":7042.1,"type":"quantitative","title":null,"scale":{"domain":[6427,7045],"nice":false,"zero":false}},"text":{"value":"PIVOTS"}}},
{"data":{"values":[{}]},"mark":{"type":"text","align":"left","baseline":"middle","fontSize":12.5,"color":"#2a6fd0","font":"Roboto"},
 "encoding":{"x":{"datum":1.246,"type":"quantitative","title":null,"scale":{"domain":[-0.05,9.4],"nice":false,"zero":false}},
 "y":{"datum":7042.1,"type":"quantitative","title":null,"scale":{"domain":[6427,7045],"nice":false,"zero":false}},"text":{"value":"MMT (20)"}}},
{"data":{"values":[{}]},"mark":{"type":"text","align":"left","baseline":"middle","fontSize":12.5,"color":"#3c9a3c","font":"Roboto"},
 "encoding":{"x":{"datum":1.925,"type":"quantitative","title":null,"scale":{"domain":[-0.05,9.4],"nice":false,"zero":false}},
 "y":{"datum":7042.1,"type":"quantitative","title":null,"scale":{"domain":[6427,7045],"nice":false,"zero":false}},"text":{"value":"KELTNER (20, 2)"}}}
]
}
